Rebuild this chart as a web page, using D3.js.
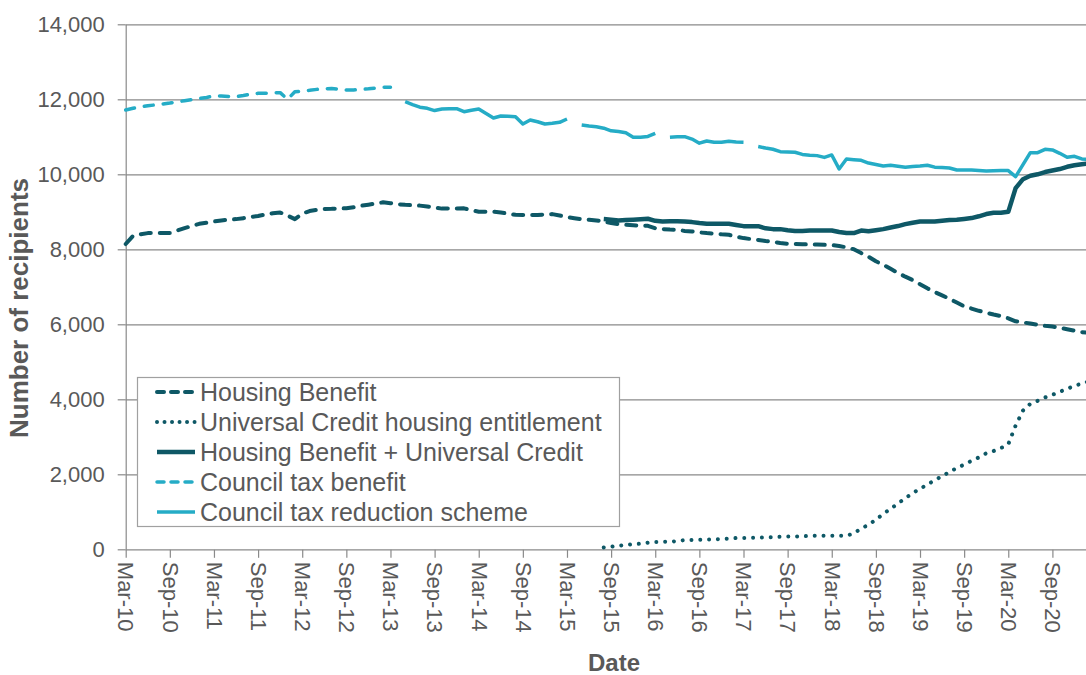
<!DOCTYPE html>
<html>
<head>
<meta charset="utf-8">
<script src="https://cdn.jsdelivr.net/npm/d3@7"></script>
<style>
body { margin: 0; background: #fff; }
text { font-family: "Liberation Sans", Arial, sans-serif; fill: #595959; }
</style>
</head>
<body>
<svg width="1086" height="675"></svg>
<script>

var width = 1086
var height = 675

// month index 0 = Mar-10, one step per month
var tickLabels = ["Mar-10","Sep-10","Mar-11","Sep-11","Mar-12","Sep-12","Mar-13","Sep-13",
  "Mar-14","Sep-14","Mar-15","Sep-15","Mar-16","Sep-16","Mar-17","Sep-17",
  "Mar-18","Sep-18","Mar-19","Sep-19","Mar-20","Sep-20"]

var yTicks = [0, 2000, 4000, 6000, 8000, 10000, 12000, 14000]

var hbStart = 0
var hbValues = [
  8141, 8360, 8400, 8432, 8432, 8432, 8432, 8500, 8565, 8620,
  8680, 8710, 8741, 8770, 8790, 8805, 8830, 8859, 8890, 8930,
  8960, 8981, 8900, 8805, 8950, 9021, 9050, 9075, 9080, 9090,
  9093, 9120, 9160, 9190, 9220, 9253, 9230, 9200, 9185, 9175,
  9165, 9140, 9110, 9085, 9085, 9090, 9093, 9040, 9003, 9003,
  9003, 8980, 8950, 8920, 8915, 8915, 8915, 8930, 8939, 8900,
  8859, 8830, 8800, 8790, 8770, 8741, 8700, 8670, 8653, 8640,
  8630, 8627, 8560, 8538, 8525, 8520, 8490, 8475, 8450, 8432,
  8420, 8400, 8387, 8340, 8299, 8272, 8250, 8220, 8200, 8170,
  8147, 8140, 8135, 8130, 8128, 8120, 8111, 8090, 8050, 8000,
  7900, 7800, 7680, 7587, 7480, 7370, 7270, 7180, 7070, 6960,
  6860, 6770, 6680, 6580, 6480, 6420, 6360, 6310, 6260, 6220,
  6160, 6080, 6050, 6020, 5990, 5960, 5940, 5905, 5870, 5830,
  5790, 5770]

var ucStart = 65
var ucValues = [
  50, 70, 95, 115, 133, 150, 175, 195, 198, 200,
  220, 245, 250, 255, 258, 262, 276, 285, 300, 302,
  305, 310, 318, 325, 335, 340, 342, 347, 360, 364,
  364, 364, 364, 364, 420, 560, 650, 790, 940, 1080,
  1220, 1360, 1500, 1610, 1730, 1840, 1950, 2060, 2170, 2260,
  2360, 2450, 2560, 2620, 2700, 2800, 3300, 3700, 3880, 3960,
  4050, 4120, 4200, 4280, 4360, 4420, 4480]

var hbucStart = 65
var hbucValues = [
  8805, 8790, 8770, 8780, 8790, 8800, 8814, 8760, 8741, 8745,
  8750, 8740, 8725, 8700, 8680, 8680, 8680, 8680, 8650, 8618,
  8618, 8618, 8560, 8538, 8538, 8510, 8490, 8490, 8503, 8503,
  8503, 8503, 8460, 8432, 8432, 8500, 8480, 8510, 8538, 8583,
  8620, 8672, 8710, 8741, 8741, 8741, 8760, 8780, 8790, 8810,
  8832, 8880, 8940, 8973, 8973, 9000, 9630, 9870, 9960, 10000,
  10060, 10100, 10140, 10200, 10240, 10270, 10290]

var ctbStart = 0
var ctbValues = [
  11715, 11760, 11800, 11830, 11850, 11875, 11900, 11930, 11963, 11990,
  12020, 12050, 12090, 12090, 12075, 12070, 12100, 12140, 12160, 12160,
  12170, 12177, 12000, 12200, 12220, 12240, 12265, 12280, 12290, 12270,
  12248, 12250, 12265, 12280, 12300, 12320, 12320]

var ctrsStart = 38
var ctrsValues = [
  11936, 11860, 11790, 11760, 11700, 11740, 11750, 11750, 11670, 11710,
  11741, 11620, 11500, 11555, 11545, 11536, 11341, 11448, 11400, 11341,
  11360, 11387, 11475, null, 11315, 11290, 11270, 11230, 11160, 11140,
  11110, 10990, 10987, 11010, 11093, null, 10987, 11000, 11004, 10940,
  10830, 10888, 10853, 10853, 10880, 10860, 10853, null, 10739, 10700,
  10667, 10604, 10595, 10587, 10530, 10510, 10498, 10450, 10516, 10143,
  10410, 10390, 10373, 10300, 10260, 10222, 10240, 10215, 10187, 10210,
  10222, 10240, 10190, 10180, 10168, 10115, 10115, 10115, 10100, 10088,
  10095, 10100, 10100, 9936, 10257, 10577, 10577, 10667, 10650, 10560,
  10453, 10480, 10409, 10400]

var dark = "#0e5866"
var light = "#25acc6"
var gridColor = "#8a8a8a"

var series = [
  {name: "Housing Benefit", start: hbStart, values: hbValues, color: dark, width: 4, dash: "10,9", legendDash: "7,7"},
  {name: "Universal Credit housing entitlement", start: ucStart, values: ucValues, color: dark, width: 4, dash: "0.01,8.8", legendDash: "0.01,7.5"},
  {name: "Housing Benefit + Universal Credit", start: hbucStart, values: hbucValues, color: dark, width: 4.5, dash: null, legendDash: null},
  {name: "Council tax benefit", start: ctbStart, values: ctbValues, color: light, width: 3.5, dash: "9,10", legendDash: "7,7"},
  {name: "Council tax reduction scheme", start: ctrsStart, values: ctrsValues, color: light, width: 3.5, dash: null, legendDash: null}
]

var svg = d3.select("svg")

var x = d3.scaleLinear().domain([0, 126]).range([125.7, 1052.4])
var y = d3.scaleLinear().domain([0, 14000]).range([549.3, 24.3])

// gridlines
svg.append("g").selectAll("line")
    .data(yTicks)
    .enter().append("line")
      .attr("x1", x(0)).attr("x2", width)
      .attr("y1", function(d) { return y(d) + 0.5 })
      .attr("y2", function(d) { return y(d) + 0.5 })
      .attr("stroke", gridColor).attr("stroke-width", 1.2)

var yAxis = svg.append("g")
    .attr("transform", "translate(" + x(0) + ",0)")
    .call(d3.axisLeft(y).tickValues(yTicks).tickFormat(d3.format(",")).tickSize(8).tickSizeOuter(0))
yAxis.select(".domain").attr("stroke", gridColor).attr("stroke-width", 1.2)
yAxis.selectAll(".tick line").attr("stroke", gridColor).attr("stroke-width", 1.2)
yAxis.selectAll(".tick text")
    .attr("x", -21)
    .style("font-size", "22px").style("fill", "#595959")

var xAxis = svg.append("g")
    .attr("transform", "translate(0," + (y(0) + 0.5) + ")")
    .call(d3.axisBottom(x).tickValues(d3.range(0, 127, 6))
      .tickFormat(function(d, i) { return tickLabels[i] })
      .tickSize(8).tickSizeOuter(0))
xAxis.select(".domain").remove()
xAxis.selectAll(".tick line").attr("stroke", gridColor).attr("stroke-width", 1.2)
xAxis.selectAll(".tick text")
    .attr("y", 0).attr("x", 12).attr("dy", "0.35em")
    .attr("transform", "rotate(90)")
    .style("text-anchor", "start")
    .style("font-size", "22px").style("fill", "#595959")

var line = d3.line()
    .defined(function(d) { return d.v != null })
    .x(function(d) { return x(d.i) })
    .y(function(d) { return y(d.v) })

series.forEach(function(s) {
  var pts = s.values.map(function(v, k) { return {i: s.start + k, v: v} })
  svg.append("path")
      .datum(pts)
      .attr("d", line)
      .attr("fill", "none")
      .attr("stroke", s.color)
      .attr("stroke-width", s.width)
      .attr("stroke-linejoin", "round")
      .attr("stroke-linecap", s.dash ? "round" : "butt")
      .attr("stroke-dasharray", s.dash)
})

// legend
var legend = svg.append("g")
legend.append("rect")
    .attr("x", 137.5).attr("y", 377.5).attr("width", 482).attr("height", 149)
    .attr("fill", "#fff").attr("stroke", "#a0a0a0").attr("stroke-width", 1.2)

var rows = legend.selectAll(".row")
    .data(series)
    .enter().append("g")
      .attr("class", "row")
      .attr("transform", function(d, i) { return "translate(0," + (392 + i * 30) + ")" })
rows.append("line")
    .attr("x1", 157).attr("x2", 195)
    .attr("stroke", function(d) { return d.color })
    .attr("stroke-width", function(d) { return d.width })
    .attr("stroke-linecap", function(d) { return d.legendDash ? "round" : "butt" })
    .attr("stroke-dasharray", function(d) { return d.legendDash })
rows.append("text")
    .attr("x", 200).attr("dy", "0.36em")
    .style("font-size", "25px")
    .text(function(d) { return d.name })

svg.append("text")
    .attr("transform", "translate(28,308) rotate(-90)")
    .attr("text-anchor", "middle")
    .style("font-size", "26px").style("font-weight", "bold")
    .text("Number of recipients")

svg.append("text")
    .attr("x", 614).attr("y", 671)
    .attr("text-anchor", "middle")
    .style("font-size", "24px").style("font-weight", "bold")
    .text("Date")

</script>
</body>
</html>
